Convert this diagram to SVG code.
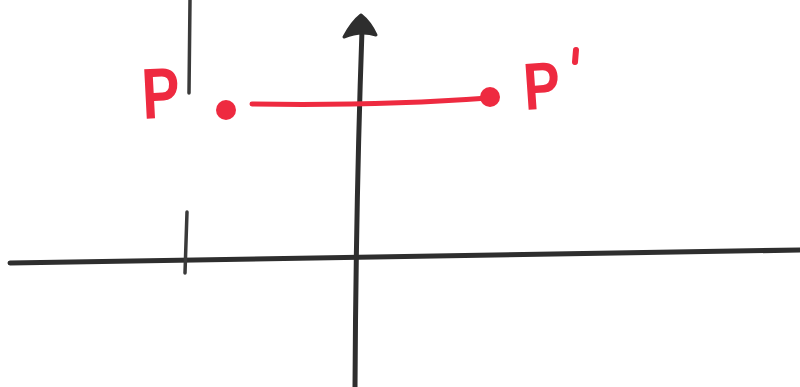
<svg xmlns="http://www.w3.org/2000/svg" width="800" height="387" viewBox="0 0 800 387">
<style>
.ax{stroke:#2e2e2e;stroke-width:5;fill:none;stroke-linecap:round;stroke-linejoin:round}
.tk{stroke:#3a3a3a;stroke-width:3.5;fill:none;stroke-linecap:round}
.rd{stroke:#ee2a40;stroke-width:5;fill:none;stroke-linecap:round}
.dot{fill:#ee2a40}
.lbl{font-family:"Liberation Sans",Arial,sans-serif;font-weight:bold;fill:#ee2a40}
</style>
<rect width="800" height="387" fill="#ffffff"/>
<g id="axes" class="connectors">
<path class="ax" d="M10 263 Q 350 257 800 250"/>
<path class="ax" d="M355 387 Q 356 200 362 30"/>
<path d="M344 37 Q 352 22 361 15 Q 370 22 376 35 Q 361 30 344 37 Z" fill="#2e2e2e" stroke="#2e2e2e" stroke-width="3" stroke-linejoin="round"/>
</g>
<g id="ticks">
<path class="tk" d="M190 0 L 189 93"/>
<path class="tk" d="M187 212 L 185 273"/>
</g>
<g id="P">
<text class="lbl" font-size="60" transform="translate(143 119) rotate(-3) scale(0.95 1.2)">P</text>
<circle class="dot" cx="226" cy="110" r="10"/>
</g>
<g id="Pprime">
<circle class="dot" cx="490" cy="97" r="10"/>
<text class="lbl" font-size="58" transform="translate(525 110) rotate(-4) scale(0.95 1.15)">P</text>
<path d="M576 50 L 575 62" stroke="#ee2a40" stroke-width="6" stroke-linecap="round"/>
</g>
<g id="segment">
<path class="rd" d="M252 104 Q 380 106 488 98"/>
</g>
</svg>
